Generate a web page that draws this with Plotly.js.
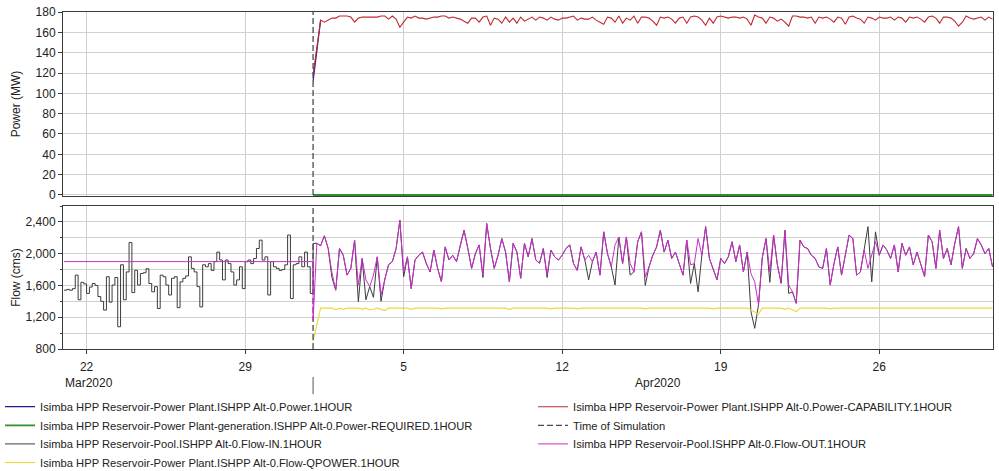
<!DOCTYPE html>
<html>
<head>
<meta charset="utf-8">
<script src="https://cdn.plot.ly/plotly-3.0.1.min.js"></script>
<style>html,body{margin:0;padding:0;background:#fff;}#chart{width:999px;height:471px;}</style>
</head>
<body>
<div id="chart"></div>
<script>
// ---------------- DATA ----------------
const legendLabels = [
  'Isimba HPP Reservoir-Power Plant.ISHPP Alt-0.Power.1HOUR',
  'Isimba HPP Reservoir-Power Plant-generation.ISHPP Alt-0.Power-REQUIRED.1HOUR',
  'Isimba HPP Reservoir-Pool.ISHPP Alt-0.Flow-IN.1HOUR',
  'Isimba HPP Reservoir-Power Plant.ISHPP Alt-0.Flow-QPOWER.1HOUR',
  'Isimba HPP Reservoir-Power Plant.ISHPP Alt-0.Power-CAPABILITY.1HOUR',
  'Time of Simulation',
  'Isimba HPP Reservoir-Pool.ISHPP Alt-0.Flow-OUT.1HOUR'
];
const xRange = ['2020-03-20 23:00', '2020-05-01 00:30'];
const simTime = '2020-04-01 00:00';
const weekTickDates = ['2020-03-22', '2020-03-29', '2020-04-05', '2020-04-12', '2020-04-19', '2020-04-26'];
const weekTickLabels = ['22', '29', '5', '12', '19', '26'];
const monthLabels = ['Mar2020', 'Apr2020'];

// history (3-hour samples from 2020-03-21 00:00)
const preStart = '2020-03-21T00:00';
const preStepHours = 3;
const flowInPre = [
  1540,1550,1540,1560,1730,1420,1640,1620,1500,1580,
  1625,1600,1460,1400,1290,1710,1390,1605,1700,1080,
  1860,1420,1770,2140,1510,1790,1605,1750,1760,1810,
  1625,1520,1585,1310,1730,1710,1605,1480,1690,1710,
  1320,1645,1690,1720,1960,1815,1770,1585,1330,1860,
  1835,1875,1790,1900,2020,1920,1670,1920,1875,1770,
  1605,1670,1835,1560,1900,1920,1875,1940,2065,2170,
  1920,1960,1480,1900,1835,1815,1790,1800,1860,2235,
  1435,1860,1875,1960,1835,2020,1835,1500
];
const flowOutPreTimes = ['2020-03-21 00:00', '2020-04-01 00:00'];
const flowOutPre = [1900, 1900];

// simulation (4-hour samples from 2020-04-01 00:00)
const postStart = '2020-04-01T00:00';
const postStepHours = 4;
const flowOutPost = [
  1165,2130,2100,2225,2065,1760,1540,2065,1980,1730,
  1815,2170,1605,1940,1670,1585,1730,1960,1480,1680,
  1860,1900,2065,2420,1770,1960,1560,1920,1980,2020,
  1875,1770,2045,1815,1645,2085,1920,1980,1900,2110,
  2295,2065,1815,2000,2110,1730,2380,2065,1815,1980,
  2190,2020,1645,2130,2020,1690,2130,1960,2190,1920,
  1880,2065,1730,2045,1960,1920,1980,2065,2110,1875,
  1790,2085,1920,1980,1900,2020,1730,2275,2000,1835,
  2110,2210,1875,2210,1875,1770,2150,2275,1710,1835,
  1980,2085,2295,2020,2170,1940,2020,1875,1730,2170,
  1860,1875,2190,1980,2340,1940,1815,1670,1940,1875,
  1960,2150,1900,2110,1770,2020,1750,1645,1355,1950,
  2190,1770,2235,1860,1645,2295,1605,1520,1375,2170,
  2085,2065,1980,1940,1835,1815,2065,1605,1875,2085,
  1730,1980,2235,2190,1730,1770,2045,1815,1980,2150,
  1980,2110,2045,1940,2110,1770,2130,1980,2085,1860,
  2020,1875,1710,2235,2150,1815,2295,1940,2065,1860,
  2130,2340,1815,2065,1940,2000,2190,2110,2000,2065,1835
];
const flowInPost = [
  2130,2130,2100,2225,2065,1700,1540,2065,1980,1730,
  1815,2170,1395,1940,1420,1585,1450,1960,1400,1680,
  1860,1900,2065,2420,1710,1960,1560,1920,1980,2020,
  1875,1770,2045,1815,1645,2085,1920,1980,1900,2110,
  2295,2065,1815,2000,2110,1700,2380,2065,1815,1980,
  2190,2020,1645,2130,2020,1690,2130,1960,2190,1920,
  1880,2065,1700,2045,1960,1920,1980,2065,2110,1875,
  1790,2085,1920,1670,1900,2020,1730,2275,2000,1835,
  1605,2210,1875,2210,1730,1770,2150,2275,1600,1835,
  1980,2085,2295,2020,2170,1940,2020,1875,1730,2170,
  1625,1875,1520,1980,2340,1940,1815,1670,1940,1875,
  1960,2150,1900,2110,1770,2020,1270,1060,1355,1950,
  2190,1640,2235,1860,1625,2295,1500,1520,1375,2170,
  2085,2065,1980,1940,1835,1815,2065,1605,1875,2085,
  1730,1980,2235,2190,1730,1770,2045,2340,1645,2275,
  1980,2110,2045,1940,2110,1770,2130,1980,2085,1860,
  2020,1875,1710,2235,2150,1815,2295,1940,2065,1860,
  2130,2340,1815,2065,1940,2000,2190,2110,2000,2065,1835
];
const qpower = [
  900,1100,1315,1315,1315,1315,1295,1315,1300,1315,
  1315,1315,1315,1300,1315,1295,1300,1315,1300,1285,
  1315,1315,1315,1315,1315,1315,1300,1315,1315,1315,
  1315,1315,1315,1315,1305,1315,1315,1315,1315,1315,
  1315,1315,1315,1315,1315,1315,1315,1315,1315,1315,
  1315,1315,1300,1315,1315,1315,1315,1315,1315,1315,
  1315,1315,1315,1305,1315,1315,1315,1315,1315,1315,
  1305,1315,1315,1315,1315,1315,1315,1315,1315,1315,
  1315,1315,1315,1315,1315,1315,1315,1315,1305,1315,
  1315,1315,1315,1315,1315,1315,1315,1315,1315,1315,
  1315,1315,1315,1315,1315,1315,1305,1315,1315,1315,
  1315,1315,1315,1315,1315,1315,1290,1265,1240,1315,
  1315,1315,1315,1315,1315,1300,1315,1290,1270,1315,
  1315,1315,1315,1315,1315,1315,1315,1305,1315,1315,
  1315,1315,1315,1315,1315,1315,1315,1315,1315,1315,
  1315,1315,1315,1315,1315,1315,1315,1315,1315,1315,
  1315,1315,1315,1315,1315,1315,1315,1315,1315,1315,
  1315,1315,1315,1315,1315,1315,1315,1315,1315,1315,1315
];
const capability = [
  118,145,172,170,172,174,174,176,176,176,
  175,170,174,175,175,175,175,175,176,176,
  173,176,173,165,170,175,174,176,174,174,
  173,174,175,175,176,176,174,175,174,173,
  171,169,174,174,170,175,176,167,174,173,
  169,175,170,174,169,175,171,173,175,172,
  175,174,172,175,173,172,174,174,175,176,
  172,174,173,173,175,172,170,168,175,174,
  170,176,169,174,172,176,169,175,175,174,
  171,167,175,174,175,173,169,174,175,169,
  175,176,175,172,167,174,169,175,176,175,
  174,175,175,174,175,173,167,177,175,174,
  169,175,174,171,173,170,166,176,176,175,
  175,174,175,169,175,174,175,173,170,175,
  174,168,175,176,174,173,169,175,174,172,
  175,174,174,175,172,175,174,170,175,174,
  175,173,170,175,176,174,169,175,175,174,
  171,166,170,176,174,173,174,175,172,175,173
];
const power = [112, 145, 172];
const requiredTimes = ['2020-04-01 00:00', '2020-05-01 00:00'];
const powerRequired = [0, 0];

// ---------------- HELPERS ----------------
function makeTimes(startIso, stepHours, count) {
  const t0 = Date.parse(startIso + ':00Z');
  const out = [];
  for (let i = 0; i < count; i++) {
    const d = new Date(t0 + i * stepHours * 3600000);
    out.push(d.toISOString().slice(0, 16).replace('T', ' '));
  }
  return out;
}
const preTimes = makeTimes(preStart, preStepHours, flowInPre.length);
const postTimes = makeTimes(postStart, postStepHours, flowOutPost.length);

const FONT = 'Liberation Sans, Arial, sans-serif';
const GRID = '#d0d0d0';
const AXIS = '#3a3a3a';
const GRAY = '#3c3c3c';

const traces = [
  {x: postTimes.slice(0, power.length), y: power, name: legendLabels[0], type: 'scatter', mode: 'lines',
   line: {color: '#1c1c8a', width: 1.2}, xaxis: 'x', yaxis: 'y', legend: 'legend'},
  {x: requiredTimes, y: powerRequired, name: legendLabels[1], type: 'scatter', mode: 'lines',
   line: {color: '#2f8f2f', width: 1.8}, xaxis: 'x', yaxis: 'y', legend: 'legend2'},
  {x: preTimes.concat([postTimes[0]]), y: flowInPre.concat([flowInPost[0]]), name: legendLabels[2], type: 'scatter', mode: 'lines',
   line: {color: GRAY, width: 1, shape: 'hv'}, xaxis: 'x2', yaxis: 'y2', legend: 'legend3', legendgroup: 'in'},
  {x: postTimes, y: flowInPost, name: legendLabels[2], type: 'scatter', mode: 'lines', showlegend: false,
   line: {color: GRAY, width: 1}, xaxis: 'x2', yaxis: 'y2', legend: 'legend3', legendgroup: 'in'},
  {x: postTimes, y: qpower, name: legendLabels[3], type: 'scatter', mode: 'lines',
   line: {color: '#ecd846', width: 1.2}, xaxis: 'x2', yaxis: 'y2', legend: 'legend4'},
  {x: postTimes, y: capability, name: legendLabels[4], type: 'scatter', mode: 'lines',
   line: {color: '#c0282e', width: 1.1}, xaxis: 'x', yaxis: 'y', legend: 'legend5'},
  {x: [simTime, simTime], y: [0, 180], name: legendLabels[5], type: 'scatter', mode: 'lines',
   line: {color: '#4a4a4a', width: 1.3, dash: '6px,3px'}, xaxis: 'x', yaxis: 'y', legend: 'legend6'},
  {x: [simTime, simTime], y: [800, 2600], name: legendLabels[5], type: 'scatter', mode: 'lines', showlegend: false,
   line: {color: '#4a4a4a', width: 1.3, dash: '6px,3px'}, xaxis: 'x2', yaxis: 'y2', legend: 'legend6'},
  {x: flowOutPreTimes.concat(postTimes), y: flowOutPre.concat(flowOutPost), name: legendLabels[6], type: 'scatter', mode: 'lines',
   line: {color: '#cc2ccc', width: 1}, xaxis: 'x2', yaxis: 'y2', legend: 'legend7'}
];

const xCommon = {
  type: 'date', range: xRange, tickvals: weekTickDates, ticktext: weekTickLabels,
  showgrid: true, gridcolor: GRID, gridwidth: 1, zeroline: false,
  showline: true, mirror: true, linecolor: AXIS, linewidth: 1
};

function legendAt(col, row) {
  const xs = [-0.0677, 0.5054];
  const ys = [-0.1282, -0.1834, -0.2386, -0.2938];
  return {x: xs[col], xanchor: 'left', y: ys[row], yanchor: 'top', orientation: 'v',
    bgcolor: 'rgba(0,0,0,0)', borderwidth: 0, font: {family: FONT, size: 11.2, color: '#222'}};
}

const layout = {
  width: 999, height: 471,
  margin: {l: 63, r: 6, t: 12, b: 122, autoexpand: false},
  paper_bgcolor: '#ffffff', plot_bgcolor: '#ffffff',
  font: {family: FONT, size: 12, color: '#222'},
  showlegend: true,
  xaxis: Object.assign({}, xCommon, {anchor: 'y', showticklabels: false, ticks: ''}),
  xaxis2: Object.assign({}, xCommon, {anchor: 'y2', showticklabels: true, ticks: 'outside', ticklen: 4, tickcolor: AXIS,
    ticklabelstandoff: 3, tickfont: {family: FONT, size: 12, color: '#222'}}),
  yaxis: {domain: [0.454, 1], anchor: 'x', range: [-1, 180], tick0: 0, dtick: 20,
    showgrid: true, gridcolor: GRID, zeroline: false, showline: true, mirror: true, linecolor: AXIS, linewidth: 1,
    ticks: 'outside', ticklen: 4, tickcolor: AXIS, tickfont: {family: FONT, size: 12, color: '#222'},
    title: {text: 'Power (MW)', font: {family: FONT, size: 12, color: '#222'}, standoff: 12}},
  yaxis2: {domain: [0, 0.4243], anchor: 'x2', range: [800, 2600], tick0: 800, dtick: 400, separatethousands: true,
    showgrid: true, gridcolor: GRID, zeroline: false, showline: true, mirror: true, linecolor: AXIS, linewidth: 1,
    ticks: 'outside', ticklen: 4, tickcolor: AXIS, tickfont: {family: FONT, size: 12, color: '#222'},
    minor: {dtick: 200, tick0: 800, showgrid: true, gridcolor: GRID, ticks: 'outside', ticklen: 2, tickcolor: AXIS},
    title: {text: 'Flow (cms)', font: {family: FONT, size: 12, color: '#222'}, standoff: 2}},
  legend: legendAt(0, 0),
  legend2: legendAt(0, 1),
  legend3: legendAt(0, 2),
  legend4: legendAt(0, 3),
  legend5: legendAt(1, 0),
  legend6: legendAt(1, 1),
  legend7: legendAt(1, 2),
  annotations: [
    {text: monthLabels[0], xref: 'paper', x: 0, xanchor: 'left', yref: 'paper', y: -0.101, yanchor: 'middle',
     showarrow: false, font: {family: FONT, size: 12, color: '#222'}},
    {text: monthLabels[1], xref: 'x2', x: '2020-04-16 05:00', xanchor: 'center', yref: 'paper', y: -0.101, yanchor: 'middle',
     showarrow: false, font: {family: FONT, size: 12, color: '#222'}}
  ],
  shapes: [
    {type: 'line', xref: 'x2', x0: simTime, x1: simTime, yref: 'paper', y0: -0.083, y1: -0.134,
     line: {color: '#555', width: 1}}
  ]
};

Plotly.newPlot('chart', traces, layout, {displayModeBar: false, staticPlot: true});
</script>
</body>
</html>
